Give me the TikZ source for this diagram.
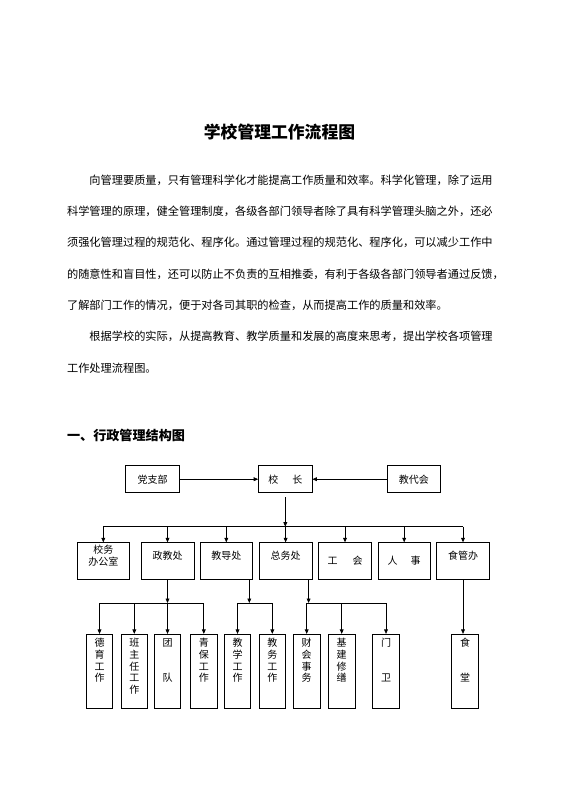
\documentclass[tikz,border=0pt]{standalone}
\usepackage{fontspec}
\setmainfont{Noto Sans CJK SC}
\usetikzlibrary{arrows.meta}

\begin{document}
\begin{tikzpicture}[x=1pt, y=-1pt, line width=0.7pt, >={Triangle[length=4.5pt,width=3.8pt]},
  txt/.style={anchor=west, inner sep=0pt, font=\fontsize{11.2}{13}\selectfont},
  box/.style={draw, inner sep=1pt, minimum width=53.5pt, minimum height=27pt,
    font=\fontsize{10}{11.7}\selectfont, text height=8.8pt, text depth=1.2pt},
  midbox/.style={box, minimum width=52.7pt, minimum height=36.6pt},
  upbox/.style={midbox, text depth=12.6pt},
  vbox/.style={draw, inner sep=0pt, minimum width=26.5pt, minimum height=74.5pt},
  vtxt/.style={anchor=north, yshift=-4pt, inner sep=0pt, align=center,
    font=\fontsize{10}{11.7}\selectfont}]
\useasboundingbox (0,0) rectangle (560,792);

% text
\node [inner sep=0pt, font=\bfseries\fontsize{16.8}{20}\selectfont] (tt) at (279.5,132) {学校管理工作流程图};
\node [txt] (p1) at (66.7,180) {\hspace*{2em}向管理要质量，只有管理科学化才能提高工作质量和效率。科学化管理，除了运用};
\node [txt] (p2) at (66.7,211.3) {科学管理的原理，健全管理制度，各级各部门领导者除了具有科学管理头脑之外，还必};
\node [txt] (p3) at (66.7,242.6) {须强化管理过程的规范化、程序化。通过管理过程的规范化、程序化，可以减少工作中};
\node [txt] (p4) at (66.7,273.9) {的随意性和盲目性，还可以防止不负责的互相推委，有利于各级各部门领导者通过反馈，};
\node [txt] (p5) at (66.7,305.2) {了解部门工作的情况，便于对各司其职的检查，从而提高工作的质量和效率。};
\node [txt] (p6) at (66.7,336.5) {\hspace*{2em}根据学校的实际，从提高教育、教学质量和发展的高度来思考，提出学校各项管理};
\node [txt] (p7) at (66.7,367.8) {工作处理流程图。};
\node [txt, font=\bfseries\fontsize{13.1}{16}\selectfont] (hd) at (66.7,435) {一、行政管理结构图};

% top row
\node [box] (dzb) at (152.5,479.2) {党支部};
\node [box] (xz) at (285.3,479.2) {校\hspace{1.4em}长};
\node [box] (jdh) at (413.8,479.2) {教代会};
\draw [->] (dzb.east) -- (xz.west);
\draw [->] (jdh.west) -- (xz.east);

% second row
\node [midbox, align=center, text height=10.2pt] (xwb) at (103.3,561) {校务\\办公室};
\node [upbox] (zjc) at (167.5,561) {政教处};
\node [upbox] (jdc) at (226.3,561) {教导处};
\node [upbox] (zwc) at (285.6,561) {总务处};
\node [midbox] (gh) at (345,561) {工\hspace{1.5em}会};
\node [midbox] (rs) at (404.2,561) {人\hspace{1.3em}事};
\node [upbox] (sgb) at (463,561) {食管办};

\coordinate (bus) at (285.3,526.7);
\draw [->, shorten <=4pt] (xz.south) -- (bus);
\draw (xwb.north |- bus) -- (sgb.north |- bus);
\draw [->] (xwb.north |- bus) -- (xwb.north);
\draw [->] (zjc.north |- bus) -- (zjc.north);
\draw [->] (jdc.north |- bus) -- (jdc.north);
\draw [->] (zwc.north |- bus) -- (zwc.north);
\draw [->] (gh.north |- bus) -- (gh.north);
\draw [->] (rs.north |- bus) -- (rs.north);
\draw [->] (sgb.north |- bus) -- (sgb.north);

% third row
\node [vbox, label={[vtxt]north:德\\育\\工\\作}] (dy) at (99.5,671.5) {};
\node [vbox, label={[vtxt]north:班\\主\\任\\工\\作}] (bzr) at (134.3,671.5) {};
\node [vbox, label={[vtxt]north:团\\[23.4pt]队}] (td) at (167.5,671.5) {};
\node [vbox, label={[vtxt]north:青\\保\\工\\作}] (qb) at (203.8,671.5) {};
\node [vbox, label={[vtxt]north:教\\学\\工\\作}] (jx) at (237.5,671.5) {};
\node [vbox, label={[vtxt]north:教\\务\\工\\作}] (jw) at (272.3,671.5) {};
\node [vbox, label={[vtxt]north:财\\会\\事\\务}] (ch) at (306.7,671.5) {};
\node [vbox, label={[vtxt]north:基\\建\\修\\缮}] (jj) at (341.7,671.5) {};
\node [vbox, label={[vtxt]north:门\\[23.4pt]卫}] (mw) at (386,671.5) {};
\node [vbox, label={[vtxt]north:食\\[23.4pt]堂}] (st) at (465,671.5) {};

% zheng jiao chu
\coordinate (bz) at (167.5,603);
\draw [->] (zjc.south) -- (bz);
\draw (dy.north |- bz) -- (qb.north |- bz);
\draw [->] (dy.north |- bz) -- (dy.north);
\draw [->] (bzr.north |- bz) -- (bzr.north);
\draw [->] (td.north |- bz) -- (td.north);
\draw [->] (qb.north |- bz) -- (qb.north);

% jiao dao chu
\coordinate (bj) at ([xshift=-3.7pt]jdc.south east |- bz);
\draw [->] ([xshift=-3.7pt]jdc.south east) -- (bj);
\draw (jx.north |- bz) -- (jw.north |- bz);
\draw [->] (jx.north |- bz) -- (jx.north);
\draw [->] (jw.north |- bz) -- (jw.north);

% zong wu chu
\coordinate (bw) at ([xshift=-3.7pt]zwc.south east |- bz);
\draw [->] ([xshift=-3.7pt]zwc.south east) -- (bw);
\draw (ch.north |- bz) -- (mw.north |- bz);
\draw [->] (ch.north |- bz) -- (ch.north);
\draw [->] (jj.north |- bz) -- (jj.north);
\draw [->] (mw.north |- bz) -- (mw.north);

% shi guan ban
\draw [->] (sgb.south) -- (sgb.south |- st.north);
\end{tikzpicture}
\end{document}
